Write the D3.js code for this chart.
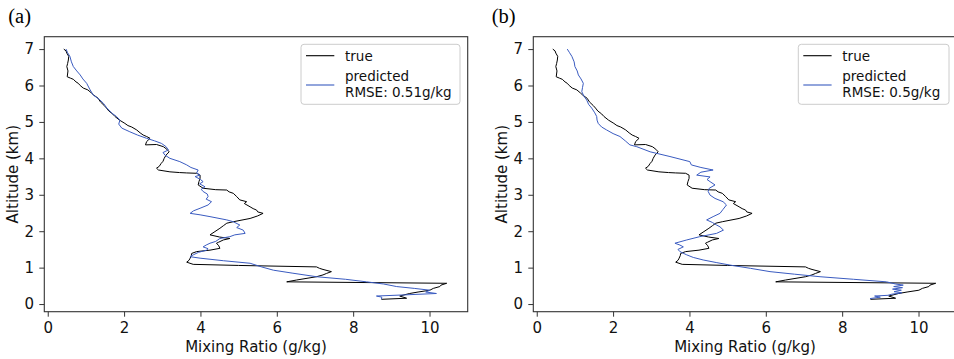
<!DOCTYPE html>
<html>
<head>
<meta charset="utf-8">
<script src="https://cdn.jsdelivr.net/npm/d3@7"></script>
<style>
  html, body { margin: 0; padding: 0; background: #fff; }
  svg { display: block; }
</style>
</head>
<body>
<svg id="chart" width="954" height="359"></svg>
<script>
// ---------------- data ----------------
// observed ("true") profile, identical in both panels
const trueAlt = [7.00,6.95,6.89,6.80,6.70,6.60,6.52,6.40,6.24,6.20,6.17,6.10,6.06,6.00,5.93,5.88,5.79,5.74,5.65,5.55,5.45,5.38,5.30,5.22,5.15,5.05,4.96,4.90,4.86,4.78,4.70,4.64,4.60,4.55,4.46,4.37,4.38,4.32,4.25,4.18,4.09,4.00,3.92,3.86,3.78,3.73,3.68,3.63,3.61,3.60,3.59,3.54,3.45,3.36,3.27,3.18,3.14,3.13,3.08,3.04,2.95,2.86,2.81,2.76,2.67,2.62,2.58,2.53,2.49,2.42,2.35,2.26,2.22,2.15,2.08,1.99,1.90,1.84,1.80,1.76,1.70,1.67,1.60,1.53,1.48,1.44,1.39,1.33,1.26,1.20,1.15,1.09,1.06,1.02,0.98,0.95,0.89,0.84,0.80,0.75,0.66,0.61,0.57,0.52,0.48,0.43,0.38,0.33,0.29,0.22,0.16,0.13];
const trueMR  = [0.42,0.48,0.50,0.55,0.54,0.52,0.50,0.53,0.51,0.60,0.67,0.74,0.80,0.85,0.93,1.05,1.15,1.20,1.32,1.38,1.48,1.54,1.60,1.70,1.76,1.88,2.02,2.10,2.20,2.33,2.42,2.50,2.59,2.68,2.59,2.56,2.85,3.03,3.12,3.18,3.10,3.05,3.02,2.97,2.92,2.85,2.90,3.20,3.45,3.64,3.90,3.99,3.99,3.96,3.94,4.07,4.40,4.69,4.75,4.86,4.95,5.03,5.21,5.15,5.30,5.38,5.47,5.50,5.64,5.50,5.30,4.86,4.69,4.60,4.51,4.38,4.25,4.50,4.77,4.60,4.48,4.42,4.48,4.51,4.25,3.90,3.77,3.76,3.73,3.70,3.64,3.81,5.00,7.04,7.12,7.21,7.43,7.30,7.21,7.04,6.52,6.26,10.45,10.30,10.27,10.10,10.01,9.70,9.48,9.22,9.40,8.74];

// predicted profile, panel (a)
const predAAlt = [7.00,6.90,6.80,6.65,6.52,6.40,6.29,6.18,6.06,5.90,5.74,5.62,5.51,5.38,5.24,5.15,5.05,4.94,4.83,4.73,4.64,4.55,4.48,4.41,4.32,4.23,4.16,4.09,4.00,3.91,3.82,3.75,3.68,3.60,3.54,3.50,3.42,3.36,3.30,3.22,3.15,3.09,3.02,2.95,2.88,2.81,2.72,2.63,2.56,2.49,2.45,2.40,2.31,2.26,2.17,2.10,2.03,1.94,1.90,1.85,1.80,1.72,1.67,1.62,1.57,1.52,1.48,1.42,1.35,1.30,1.26,1.19,1.12,1.02,0.93,0.85,0.75,0.68,0.61,0.55,0.48,0.43,0.38,0.33,0.29,0.25,0.22,0.19,0.13];
const predAMR  = [0.48,0.52,0.58,0.62,0.67,0.76,0.85,0.92,1.02,1.10,1.19,1.35,1.46,1.55,1.68,1.80,1.89,1.86,1.94,2.15,2.35,2.59,2.80,2.98,3.10,3.16,3.02,3.07,3.20,3.46,3.64,3.75,3.94,3.90,3.99,3.86,4.00,4.07,3.98,4.12,4.02,4.07,4.18,4.20,4.15,4.29,4.20,3.99,3.82,3.73,3.99,4.25,4.69,4.86,5.03,4.95,5.12,5.17,4.90,4.77,4.51,4.40,4.25,4.15,4.07,4.20,4.16,3.95,3.81,3.73,3.99,4.60,5.30,5.60,5.91,6.40,7.04,7.80,8.35,8.80,9.14,9.60,10.01,9.90,10.18,9.31,8.61,8.75,8.74];

// predicted profile, panel (b)
const predBAlt = [7.00,6.90,6.80,6.65,6.52,6.40,6.29,6.18,6.06,5.95,5.83,5.70,5.60,5.48,5.38,5.25,5.15,5.05,4.96,4.86,4.78,4.68,4.60,4.48,4.37,4.32,4.18,4.05,3.91,3.82,3.75,3.68,3.62,3.54,3.49,3.42,3.36,3.27,3.18,3.09,2.99,2.90,2.81,2.72,2.60,2.49,2.40,2.31,2.24,2.17,2.12,2.03,1.94,1.85,1.76,1.67,1.62,1.57,1.50,1.44,1.35,1.28,1.21,1.14,1.07,0.98,0.89,0.82,0.75,0.68,0.61,0.55,0.52,0.48,0.45,0.41,0.38,0.34,0.31,0.27,0.24,0.22,0.19,0.15];
const predBMR  = [0.80,0.86,0.92,0.98,1.00,1.06,1.09,1.16,1.22,1.20,1.18,1.24,1.31,1.36,1.44,1.52,1.57,1.58,1.61,1.70,1.83,2.00,2.18,2.32,2.44,2.62,2.97,3.49,4.01,4.05,4.30,4.62,4.30,4.19,4.54,4.46,4.54,4.67,4.52,4.49,4.54,4.67,4.88,4.97,4.88,4.80,4.62,4.45,4.60,4.71,4.80,4.89,4.71,4.27,3.93,3.62,3.75,3.84,3.70,3.75,3.93,4.10,4.36,4.70,5.06,5.60,6.11,6.75,7.42,8.30,9.16,9.40,9.60,9.35,9.58,9.32,9.55,9.36,9.56,9.30,9.20,8.85,9.00,8.73];

const xTicks = [0, 2, 4, 6, 8, 10];
const yTicks = [0, 1, 2, 3, 4, 5, 6, 7];
const panelLabels = ["(a)", "(b)"];
const legendLabels = ["true", "predicted", "RMSE: 0.51g/kg", "RMSE: 0.5g/kg"];

// ---------------- drawing ----------------
const svg = d3.select("#chart");
const FONT = "'DejaVu Sans', sans-serif";
const BLUE = "#3a5bc0";

const W = 423.4, H = 275;
const xDomain = [-0.09, 11.0], yDomain = [-0.21, 7.34];

function toPoints(alt, mr) { return alt.map((a, i) => ({ alt: a, mr: mr[i] })); }

const panels = [
  { left: 44.3, top: 36.7, label: panelLabels[0], labelX: 8.3, pred: toPoints(predAAlt, predAMR), rmse: legendLabels[2],
    leg: { x: 301, y: 44.3, w: 159, h: 60 } },
  { left: 533.3, top: 36.7, label: panelLabels[1], labelX: 491.7, pred: toPoints(predBAlt, predBMR), rmse: legendLabels[3],
    leg: { x: 798.3, y: 44.3, w: 150.7, h: 60 } }
];
const truePts = toPoints(trueAlt, trueMR);

panels.forEach((p, idx) => {
  const x = d3.scaleLinear().domain(xDomain).range([0, W]);
  const y = d3.scaleLinear().domain(yDomain).range([H, 0]);
  const g = svg.append("g").attr("transform", `translate(${p.left},${p.top})`);

  // panel label
  svg.append("text").attr("x", p.labelX).attr("y", 23.2)
    .attr("font-family", "'Liberation Serif', 'Times New Roman', serif")
    .attr("font-size", 20.5).attr("fill", "#000").text(p.label);

  const clipId = "clip" + idx;
  g.append("clipPath").attr("id", clipId).append("rect").attr("width", W).attr("height", H);

  const line = d3.line().x(d => x(d.mr)).y(d => y(d.alt));
  const plot = g.append("g").attr("clip-path", `url(#${clipId})`);
  plot.append("path").datum(truePts).attr("d", line)
    .attr("fill", "none").attr("stroke", "#000").attr("stroke-width", 1).attr("stroke-linejoin", "round");
  plot.append("path").datum(p.pred).attr("d", line)
    .attr("fill", "none").attr("stroke", BLUE).attr("stroke-width", 1).attr("stroke-linejoin", "round");

  // axes
  const xa = g.append("g").attr("transform", `translate(0,${H})`)
    .call(d3.axisBottom(x).tickValues(xTicks).tickSize(5).tickPadding(5.4).tickFormat(d3.format("d")));
  const ya = g.append("g")
    .call(d3.axisLeft(y).tickValues(yTicks).tickSize(5).tickPadding(5.3).tickFormat(d3.format("d")));
  [xa, ya].forEach(a => {
    a.select(".domain").remove();
    a.selectAll("line").attr("stroke", "#333").attr("stroke-width", 1);
    a.selectAll("text").attr("font-family", FONT).attr("font-size", 15).attr("fill", "#111");
  });

  // frame
  g.append("rect").attr("width", W).attr("height", H)
    .attr("fill", "none").attr("stroke", "#333").attr("stroke-width", 1.1);

  // axis titles
  g.append("text").attr("x", W / 2).attr("y", 315.6)
    .attr("text-anchor", "middle").attr("font-family", FONT).attr("font-size", 15).attr("fill", "#111")
    .text("Mixing Ratio (g/kg)");
  svg.append("text")
    .attr("transform", `translate(${p.left - 26.8},${p.top + H / 2}) rotate(-90)`)
    .attr("text-anchor", "middle").attr("font-family", FONT).attr("font-size", 15).attr("fill", "#111")
    .text("Altitude (km)");

  // legend
  const L = p.leg;
  svg.append("rect").attr("x", L.x).attr("y", L.y).attr("width", L.w).attr("height", L.h)
    .attr("rx", 3).attr("fill", "#fff").attr("fill-opacity", 0.8)
    .attr("stroke", "#cccccc").attr("stroke-width", 1);
  const hx = L.x + 5, tx = L.x + 44;
  svg.append("line").attr("x1", hx).attr("x2", hx + 28.3).attr("y1", 55.7).attr("y2", 55.7)
    .attr("stroke", "#000").attr("stroke-width", 1.1);
  svg.append("line").attr("x1", hx).attr("x2", hx + 28.3).attr("y1", 85).attr("y2", 85)
    .attr("stroke", BLUE).attr("stroke-width", 1.1);
  const lt = svg.append("g").attr("font-family", FONT).attr("font-size", 13.5).attr("fill", "#111");
  lt.append("text").attr("x", tx).attr("y", 60.8).text(legendLabels[0]);
  lt.append("text").attr("x", tx).attr("y", 80.6).text(legendLabels[1]);
  lt.append("text").attr("x", tx).attr("y", 96.5).text(p.rmse);
});
</script>
</body>
</html>
